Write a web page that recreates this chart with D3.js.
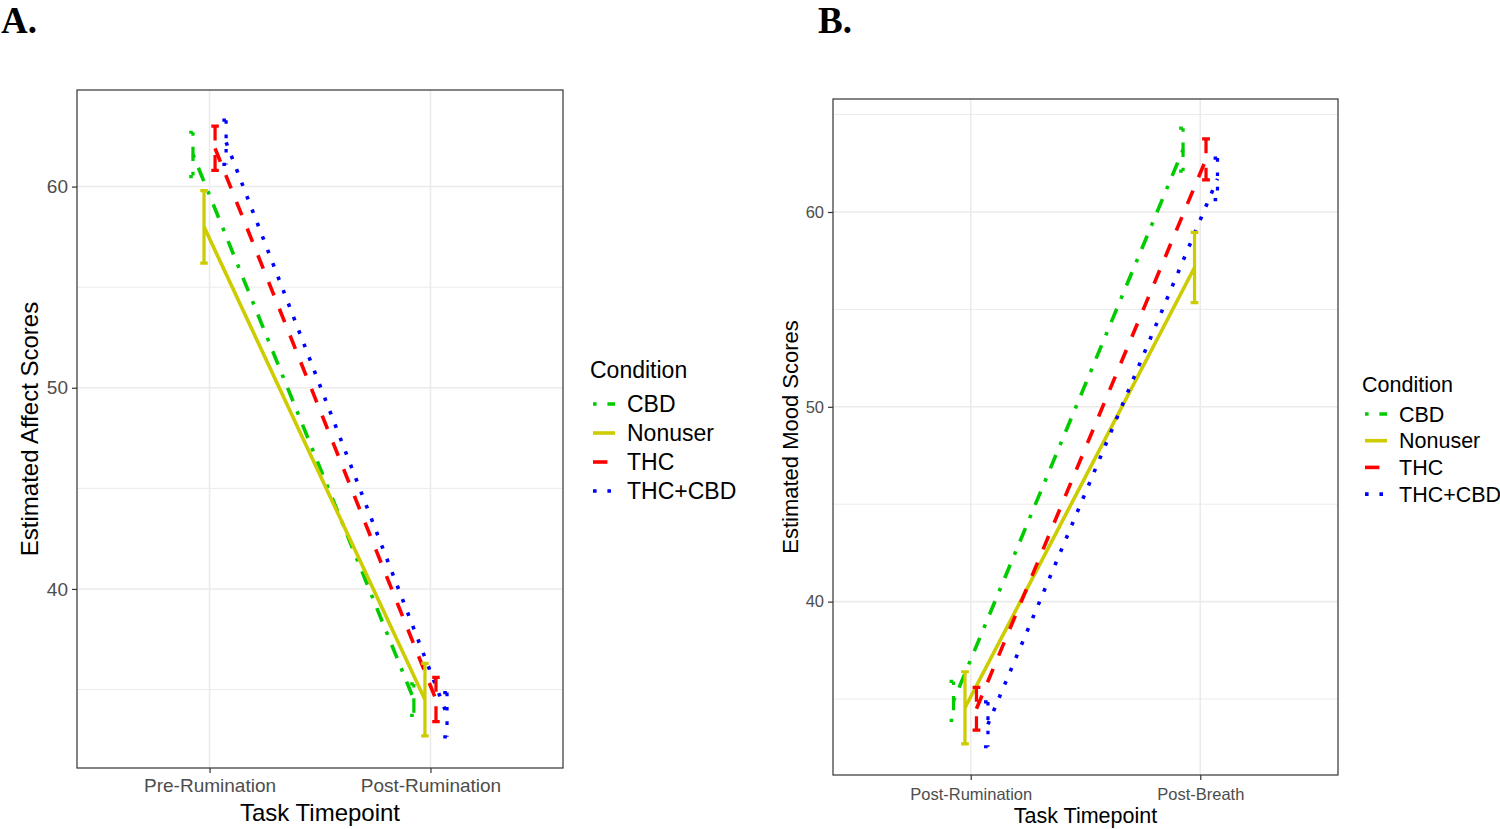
<!DOCTYPE html>
<html>
<head>
<meta charset="utf-8">
<script src="https://cdn.jsdelivr.net/npm/d3@7"></script>
<style>
  body { margin: 0; background: #fff; }
  svg { display: block; font-family: "Liberation Sans", Arial, sans-serif; }
</style>
</head>
<body>
<div id="chart"></div>
<script>
// conditions shared by both panels
var conditions = ["CBD", "Nonuser", "THC", "THC+CBD"];
var condColors = ["#00CC00", "#CCCC00", "#FF0000", "#0000FF"];

// panel A: affect
var affectTimepoints = ["Pre-Rumination", "Post-Rumination"];
var affectMeans = [[61.6, 34.5], [58.0, 34.5], [61.9, 34.5], [62.2, 33.75]];
var affectCI = [[1.1, 0.78], [1.8, 1.8], [1.1, 1.1], [1.1, 1.1]];
var affectTicks = [40, 50, 60];

// panel B: mood
var moodTimepoints = ["Post-Rumination", "Post-Breath"];
var moodMeans = [[34.9, 63.2], [34.55, 57.15], [34.5, 62.7], [33.7, 61.7]];
var moodCI = [[1.0, 1.1], [1.85, 1.8], [1.1, 1.05], [1.15, 1.07]];
var moodTicks = [40, 50, 60];

var width = 1500, height = 829;

var svg = d3.select("#chart").append("svg")
    .attr("width", width)
    .attr("height", height);

// ggplot-ish line types, scaled to the line width
var lw = 3.6;
var dashes = [
    [lw, 3 * lw, 4 * lw, 3 * lw].join(","),   // dotdash
    null,                                     // solid
    [4 * lw, 4 * lw].join(","),               // dashed
    [lw, 3 * lw].join(",")                    // dotted
];
var dodge = [-0.075, -0.025, 0.025, 0.075];

function drawPanel(cfg) {
    var g = svg.append("g");

    var yScale = d3.scaleLinear().domain(cfg.yDomain).range([cfg.bottom, cfg.top]);
    // discrete axis with 0.6 expansion on each side
    var xScale = d3.scalePoint().domain(cfg.timepoints).range([cfg.left, cfg.right]).padding(0.6);
    var step = xScale.step();

    // grid lines
    var minor = [35, 45, 55, 65].filter(function (d) { return d > cfg.yDomain[0] && d < cfg.yDomain[1]; });
    g.selectAll(".minor").data(minor).enter().append("line")
        .attr("x1", cfg.left).attr("x2", cfg.right)
        .attr("y1", function (d) { return yScale(d); })
        .attr("y2", function (d) { return yScale(d); })
        .attr("stroke", "#EBEBEB").attr("stroke-width", 1);
    g.selectAll(".major").data(cfg.ticks).enter().append("line")
        .attr("x1", cfg.left).attr("x2", cfg.right)
        .attr("y1", function (d) { return yScale(d); })
        .attr("y2", function (d) { return yScale(d); })
        .attr("stroke", "#EBEBEB").attr("stroke-width", 1.6);
    g.selectAll(".vgrid").data(cfg.timepoints).enter().append("line")
        .attr("x1", function (d) { return xScale(d); })
        .attr("x2", function (d) { return xScale(d); })
        .attr("y1", cfg.top).attr("y2", cfg.bottom)
        .attr("stroke", "#EBEBEB").attr("stroke-width", 1.6);

    // lines between timepoints
    conditions.forEach(function (cond, i) {
        var pts = cfg.timepoints.map(function (t, j) {
            return [xScale(t) + dodge[i] * step, yScale(cfg.means[i][j])];
        });
        g.append("path")
            .attr("d", d3.line()(pts))
            .attr("fill", "none")
            .attr("stroke", condColors[i])
            .attr("stroke-width", lw)
            .attr("stroke-dasharray", dashes[i]);
    });

    // error bars
    var capHalf = 0.017 * step;
    conditions.forEach(function (cond, i) {
        cfg.timepoints.forEach(function (t, j) {
            var x = xScale(t) + dodge[i] * step;
            var hi = yScale(cfg.means[i][j] + cfg.ci[i][j]);
            var lo = yScale(cfg.means[i][j] - cfg.ci[i][j]);
            var path = d3.path();
            path.moveTo(x - capHalf, hi);
            path.lineTo(x + capHalf, hi);
            path.moveTo(x, hi);
            path.lineTo(x, lo);
            path.moveTo(x - capHalf, lo);
            path.lineTo(x + capHalf, lo);
            g.append("path")
                .attr("d", path.toString())
                .attr("fill", "none")
                .attr("stroke", condColors[i])
                .attr("stroke-width", lw * 0.9)
                .attr("stroke-dasharray", dashes[i]);
        });
    });

    // panel border
    g.append("rect")
        .attr("x", cfg.left).attr("y", cfg.top)
        .attr("width", cfg.right - cfg.left).attr("height", cfg.bottom - cfg.top)
        .attr("fill", "none").attr("stroke", "#333333").attr("stroke-width", 1.2);

    // axes
    var yAxis = d3.axisLeft(yScale).tickValues(cfg.ticks).tickSize(5).tickPadding(4);
    var yg = g.append("g").attr("transform", "translate(" + cfg.left + ",0)").call(yAxis);
    var xAxis = d3.axisBottom(xScale).tickSize(5).tickPadding(cfg.xPad);
    var xg = g.append("g").attr("transform", "translate(0," + cfg.bottom + ")").call(xAxis);
    [yg, xg].forEach(function (ax) {
        ax.select(".domain").remove();
        ax.selectAll(".tick line").attr("stroke", "#333333").attr("stroke-width", 1.2);
        ax.selectAll(".tick text")
            .attr("fill", "#4D4D4D")
            .style("font-family", "Liberation Sans, Arial, sans-serif")
            .style("font-size", cfg.tickSize + "px");
    });

    // axis titles
    g.append("text")
        .attr("x", (cfg.left + cfg.right) / 2)
        .attr("y", cfg.xTitleY)
        .attr("text-anchor", "middle")
        .style("font-size", cfg.xTitleSize + "px")
        .text("Task Timepoint");
    g.append("text")
        .attr("transform", "translate(" + cfg.yTitleX + "," + ((cfg.top + cfg.bottom) / 2) + ") rotate(-90)")
        .attr("text-anchor", "middle")
        .attr("dy", "0.35em")
        .style("font-size", cfg.yTitleSize + "px")
        .text(cfg.yTitle);

    // legend
    var leg = g.append("g");
    leg.append("text")
        .attr("x", cfg.legX)
        .attr("y", cfg.legTitleY)
        .attr("dy", "0.35em")
        .style("font-size", cfg.legSize + "px")
        .text("Condition");
    conditions.forEach(function (cond, i) {
        var cy = cfg.legY0 + i * cfg.legStep;
        leg.append("line")
            .attr("x1", cfg.legX + 3).attr("x2", cfg.legX + 25)
            .attr("y1", cy).attr("y2", cy)
            .attr("stroke", condColors[i])
            .attr("stroke-width", lw)
            .attr("stroke-dasharray", dashes[i]);
        leg.append("text")
            .attr("x", cfg.legX + 37)
            .attr("y", cy)
            .attr("dy", "0.35em")
            .style("font-size", cfg.legSize + "px")
            .text(cond);
    });

    // panel letter
    svg.append("text")
        .attr("x", cfg.labelX)
        .attr("y", 33)
        .style("font-family", "Liberation Serif, Times New Roman, serif")
        .style("font-weight", "bold")
        .style("font-size", "37px")
        .text(cfg.label);
}

drawPanel({
    label: "A.", labelX: 1,
    left: 77, right: 563, top: 90, bottom: 768,
    yDomain: [31.1, 64.8],
    timepoints: affectTimepoints, means: affectMeans, ci: affectCI, ticks: affectTicks,
    tickSize: 19, xPad: 6,
    xTitleY: 821, xTitleSize: 24,
    yTitle: "Estimated Affect Scores", yTitleX: 30, yTitleSize: 24,
    legX: 590, legTitleY: 370, legY0: 404, legStep: 29, legSize: 23
});

drawPanel({
    label: "B.", labelX: 818,
    left: 833, right: 1338, top: 99, bottom: 775,
    yDomain: [31.1, 65.8],
    timepoints: moodTimepoints, means: moodMeans, ci: moodCI, ticks: moodTicks,
    tickSize: 16.5, xPad: 8,
    xTitleY: 823, xTitleSize: 21.5,
    yTitle: "Estimated Mood Scores", yTitleX: 790, yTitleSize: 22,
    legX: 1362, legTitleY: 384, legY0: 414, legStep: 26.7, legSize: 21.5
});
</script>
</body>
</html>
